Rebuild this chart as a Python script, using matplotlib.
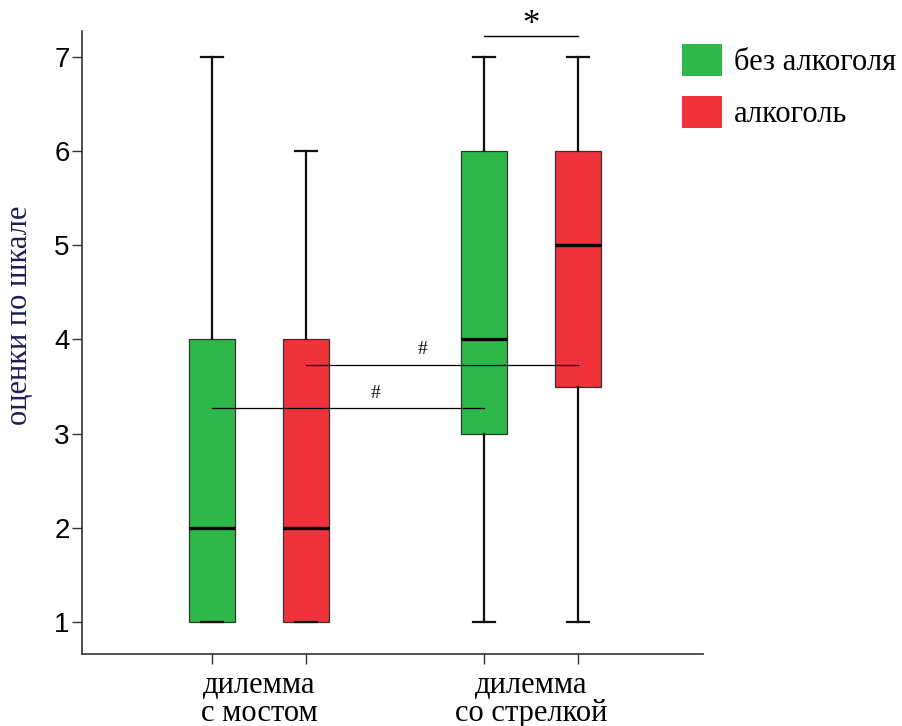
import matplotlib.pyplot as plt
from matplotlib.patches import Patch

# data
groups = ['дилемма\nс мостом', 'дилемма\nсо стрелкой']
series = ['без алкоголя', 'алкоголь']
colors = ['#2eb84a', '#f0323c']
whislo = [1, 1, 1, 1]
q1 = [1, 1, 3, 3.5]
med = [2, 2, 4, 5]
q3 = [4, 4, 6, 6]
whishi = [7, 6, 7, 7]
yticks = [1, 2, 3, 4, 5, 6, 7]

group_pos = [1, 2]
offset = 0.1725
positions = [g + s * offset for g in group_pos for s in (-1, 1)]

serif = 'Liberation Serif'
sans = 'Liberation Sans'

fig = plt.figure(figsize=(9.02, 7.26), dpi=100)
ax = fig.add_axes([82 / 902, 1 - 654 / 726, (703 - 82) / 902, (654 - 31) / 726])

stats = []
for i in range(4):
    stats.append(dict(whislo=whislo[i], q1=q1[i], med=med[i], q3=q3[i], whishi=whishi[i]))

bp = ax.bxp(stats, positions=positions, widths=0.169, capwidths=0.081,
            showfliers=False, patch_artist=True, manage_ticks=False,
            boxprops=dict(edgecolor='#333333', linewidth=0.9),
            medianprops=dict(color='black', linewidth=2.4),
            whiskerprops=dict(color='#111111', linewidth=1.6),
            capprops=dict(color='#111111', linewidth=1.6))
for i, box in enumerate(bp['boxes']):
    box.set_facecolor(colors[i % 2])

# significance marks
ax.plot([positions[2], positions[3]], [7.22, 7.22], color='black', lw=1.0, clip_on=False)
ax.text((positions[2] + positions[3]) / 2, 7.33, '*', ha='center', va='center',
        fontsize=25, family=serif, clip_on=False)
ax.plot([positions[1], positions[3]], [3.73, 3.73], color='black', lw=0.9)
ax.text(1.60, 3.80, '#', ha='center', va='bottom', fontsize=14, family=serif)
ax.plot([positions[0], positions[2]], [3.27, 3.27], color='black', lw=0.9)
ax.text(1.428, 3.34, '#', ha='center', va='bottom', fontsize=14, family=serif)

ax.set_xlim(0.349, 2.632)
ax.set_ylim(0.66, 7.276)
ax.set_yticks(yticks)
ax.set_yticklabels([str(v) for v in yticks], fontsize=20, family=sans)
ax.tick_params(axis='y', length=7, width=1, pad=2, color='#333333')

ax.set_xticks(positions)
ax.set_xticklabels([''] * 4)
ax.set_xticks(group_pos, minor=True)
ax.set_xticklabels(groups, minor=True, fontsize=22, family=serif, linespacing=0.95)
ax.tick_params(axis='x', which='major', length=7, width=1, color='#333333')
ax.tick_params(axis='x', which='minor', length=0, pad=12)

for side in ('top', 'right'):
    ax.spines[side].set_visible(False)
for side in ('left', 'bottom'):
    ax.spines[side].set_color('#333333')
    ax.spines[side].set_linewidth(1.2)

fig.text(20 / 902, 1 - 315 / 726, 'оценки по шкале', rotation=90, ha='center', va='center',
         fontsize=22, family=serif, color='#1c2050')

handles = [Patch(facecolor=c, edgecolor='none') for c in colors]
fig.legend(handles, series, loc='upper left', bbox_to_anchor=(682 / 902, 1 - 44 / 726),
           frameon=False, borderpad=0, borderaxespad=0, handlelength=1.3, handleheight=1.25,
           handletextpad=0.4, labelspacing=0.6, prop=dict(family=serif, size=22))

fig.savefig('out.png', dpi=100)
